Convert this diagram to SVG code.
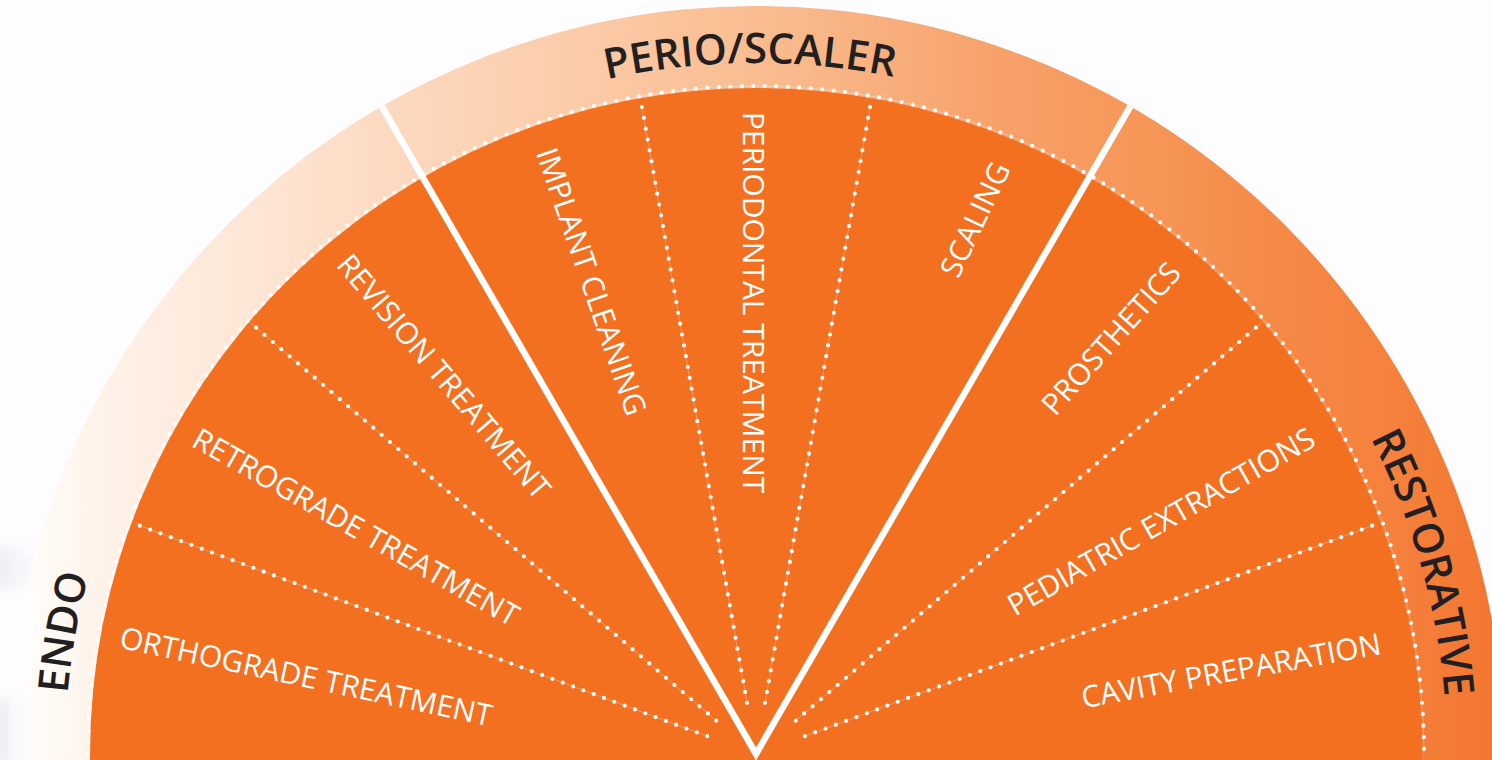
<svg xmlns="http://www.w3.org/2000/svg" width="1492" height="760" viewBox="0 0 1492 760">
<style>
.cat{font-family:"Open Sans","Liberation Sans",sans-serif;font-weight:600;font-size:42px;fill:#231f20}
.lbl{font-family:"Open Sans","Liberation Sans",sans-serif;font-weight:500;font-size:30px;fill:#ffffff;text-anchor:middle}
.main{fill:none;stroke:#ffffff;stroke-width:6.5;stroke-linejoin:miter;stroke-miterlimit:10}
.hair{fill:none;stroke:#ffffff;stroke-width:0.6;stroke-opacity:0.45}
.dots{fill:none;stroke:#ffffff;stroke-width:4.2;stroke-linecap:round;stroke-dasharray:0 11}
.adots{fill:none;stroke:#ffffff;stroke-width:4.2;stroke-linecap:round;stroke-dasharray:0 11.5}
</style>
<defs>
<linearGradient id="bandGrad" gradientUnits="userSpaceOnUse" x1="0" y1="0" x2="1492" y2="0">
<stop offset="0" stop-color="#ffffff" stop-opacity="0.2"/>
<stop offset="0.03" stop-color="#fffaf6"/>
<stop offset="0.07" stop-color="#fef2e8"/>
<stop offset="0.17" stop-color="#fde6d5"/>
<stop offset="0.27" stop-color="#fcd8be"/>
<stop offset="0.40" stop-color="#fbcaa6"/>
<stop offset="0.54" stop-color="#f9b88a"/>
<stop offset="0.67" stop-color="#f7a169"/>
<stop offset="0.77" stop-color="#f69657"/>
<stop offset="0.84" stop-color="#f58b48"/>
<stop offset="0.94" stop-color="#f4803b"/>
<stop offset="1" stop-color="#f37630"/>
</linearGradient>
<linearGradient id="bgLeft" gradientUnits="userSpaceOnUse" x1="0" y1="0" x2="60" y2="0">
<stop offset="0" stop-color="#d5dae2" stop-opacity="0.45"/>
<stop offset="1" stop-color="#ffffff" stop-opacity="0"/>
</linearGradient>
<filter id="soft" x="-50%" y="-50%" width="200%" height="200%"><feGaussianBlur stdDeviation="8"/></filter>
<clipPath id="outerClip"><circle cx="756" cy="754" r="748"/></clipPath>
<path id="catArc" d="M 65 754 A 691 691 0 0 1 1447 754"/>
</defs>

<rect x="0" y="0" width="1492" height="760" fill="#fdfdff"/>
<g filter="url(#soft)">
<rect x="-10" y="548" width="70" height="40" fill="url(#bgLeft)"/>
<rect x="-10" y="700" width="70" height="70" fill="url(#bgLeft)"/>
</g>

<g id="outer-band">
<circle cx="756" cy="754" r="748" fill="url(#bandGrad)"/>
</g>
<g id="inner-disc">
<circle cx="756" cy="754" r="666" fill="#f37021"/>
</g>

<g id="connectors">
<g clip-path="url(#outerClip)">
<path class="main" d="M 374 93 L 756 754 L 1138 93"/>
</g>
<path class="hair" d="M 88 754 A 668 668 0 0 1 1424 754"/>
<path class="adots" d="M 88 754 A 668 668 0 0 1 1424 754"/>
<path class="hair" d="M 707.1 736.2 L 135.8 524.2"/>
<path class="dots" d="M 707.1 736.2 L 135.8 524.2"/>
<path class="hair" d="M 716.2 720.6 L 250.4 322.8"/>
<path class="dots" d="M 716.2 720.6 L 250.4 322.8"/>
<path class="hair" d="M 747.0 702.8 L 641.4 104.0"/>
<path class="dots" d="M 747.0 702.8 L 641.4 104.0"/>
<path class="hair" d="M 765.0 702.8 L 870.6 104.0"/>
<path class="dots" d="M 765.0 702.8 L 870.6 104.0"/>
<path class="hair" d="M 795.8 720.6 L 1261.6 322.8"/>
<path class="dots" d="M 795.8 720.6 L 1261.6 322.8"/>
<path class="hair" d="M 804.9 736.2 L 1376.2 524.2"/>
<path class="dots" d="M 804.9 736.2 L 1376.2 524.2"/>
</g>

<g id="endo">
<text class="cat"><textPath href="#catArc" startOffset="120.6" text-anchor="middle">ENDO</textPath></text>
</g>
<g id="perio-scaler">
<text class="cat"><textPath href="#catArc" startOffset="1079.4" text-anchor="middle">PERIO/SCALER</textPath></text>
</g>
<g id="restorative">
<text class="cat"><textPath href="#catArc" startOffset="1977.9" text-anchor="middle">RESTORATIVE</textPath></text>
</g>

<g id="orthograde-treatment">
<text class="lbl" transform="translate(306,676.5) rotate(12)" y="10.7">ORTHOGRADE TREATMENT</text>
</g>
<g id="retrograde-treatment">
<text class="lbl" transform="translate(356,527) rotate(29.5)" y="10.7">RETROGRADE TREATMENT</text>
</g>
<g id="revision-treatment">
<text class="lbl" transform="translate(444,376.5) rotate(49.5)" y="10.7">REVISION TREATMENT</text>
</g>
<g id="implant-cleaning">
<text class="lbl" transform="translate(591.5,281.5) rotate(71)" y="10.7">IMPLANT CLEANING</text>
</g>
<g id="periodontal-treatment">
<text class="lbl" transform="translate(753.5,302.5) rotate(90)" y="10.7">PERIODONTAL TREATMENT</text>
</g>
<g id="scaling">
<text class="lbl" transform="translate(975,219.5) rotate(-64.6)" y="10.7">SCALING</text>
</g>
<g id="prosthetics">
<text class="lbl" transform="translate(1111,338.5) rotate(-48.4)" y="10.7">PROSTHETICS</text>
</g>
<g id="pediatric-extractions">
<text class="lbl" transform="translate(1161,521.5) rotate(-29.6)" y="10.7">PEDIATRIC EXTRACTIONS</text>
</g>
<g id="cavity-preparation">
<text class="lbl" transform="translate(1231,670.5) rotate(-10.3)" y="10.7">CAVITY PREPARATION</text>
</g>
</svg>
